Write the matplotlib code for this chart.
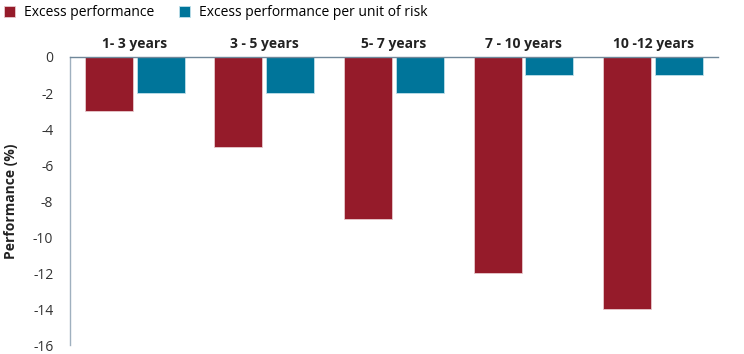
import matplotlib.pyplot as plt
import numpy as np

plt.rcParams['font.family'] = ['Open Sans', 'DejaVu Sans']
plt.rcParams['axes.unicode_minus'] = False

periods = ['1- 3 years', '3 - 5 years', '5- 7 years', '7 - 10 years', '10 -12 years']
excess_perf = [-3, -5, -9, -12, -14]
excess_per_risk = [-2, -2, -2, -1, -1]

red = '#951b2a'
teal = '#00759a'
axis_col = '#9fb0bf'

fig = plt.figure(figsize=(7.44, 3.54), dpi=100)
ax = fig.add_axes([0.094, 0.025, 0.871, 0.814])

x = np.arange(len(periods))
w = 0.37
ax.bar(x - w / 2 - 0.015, excess_perf, w, color=red, edgecolor='#e8c9cd', linewidth=0.6,
       label='Excess performance')
ax.bar(x + w / 2 + 0.015, excess_per_risk, w, color=teal, edgecolor='#bfe0ea', linewidth=0.6,
       label='Excess performance per unit of risk')

ax.set_xlim(-0.5, len(periods) - 0.5)
ax.set_ylim(-16, 0)
ax.set_yticks(range(-16, 1, 2))
ax.tick_params(axis='y', length=0, labelsize=10, colors='#333333', pad=12)
ax.xaxis.tick_top()
ax.set_xticks(x)
ax.set_xticklabels(periods, fontweight='bold', fontsize=10, color='#222222')
ax.tick_params(axis='x', length=0, pad=4)

for s in ['bottom', 'right']:
    ax.spines[s].set_visible(False)
ax.spines['top'].set_color('#6f8799')
ax.spines['top'].set_linewidth(1)
ax.spines['left'].set_color(axis_col)
ax.spines['left'].set_linewidth(1)

fig.text(11 / 744, 0.432, 'Performance (%)', rotation=90, ha='center', va='center',
         fontweight='bold', fontsize=10, color='#222222')

fig.legend(loc='upper left', bbox_to_anchor=(-0.011, 1.02), ncol=2, frameon=False,
           fontsize=10, handlelength=0.8, handleheight=0.8, handletextpad=0.65,
           columnspacing=1.75)

fig.savefig('out.png', dpi=100)
